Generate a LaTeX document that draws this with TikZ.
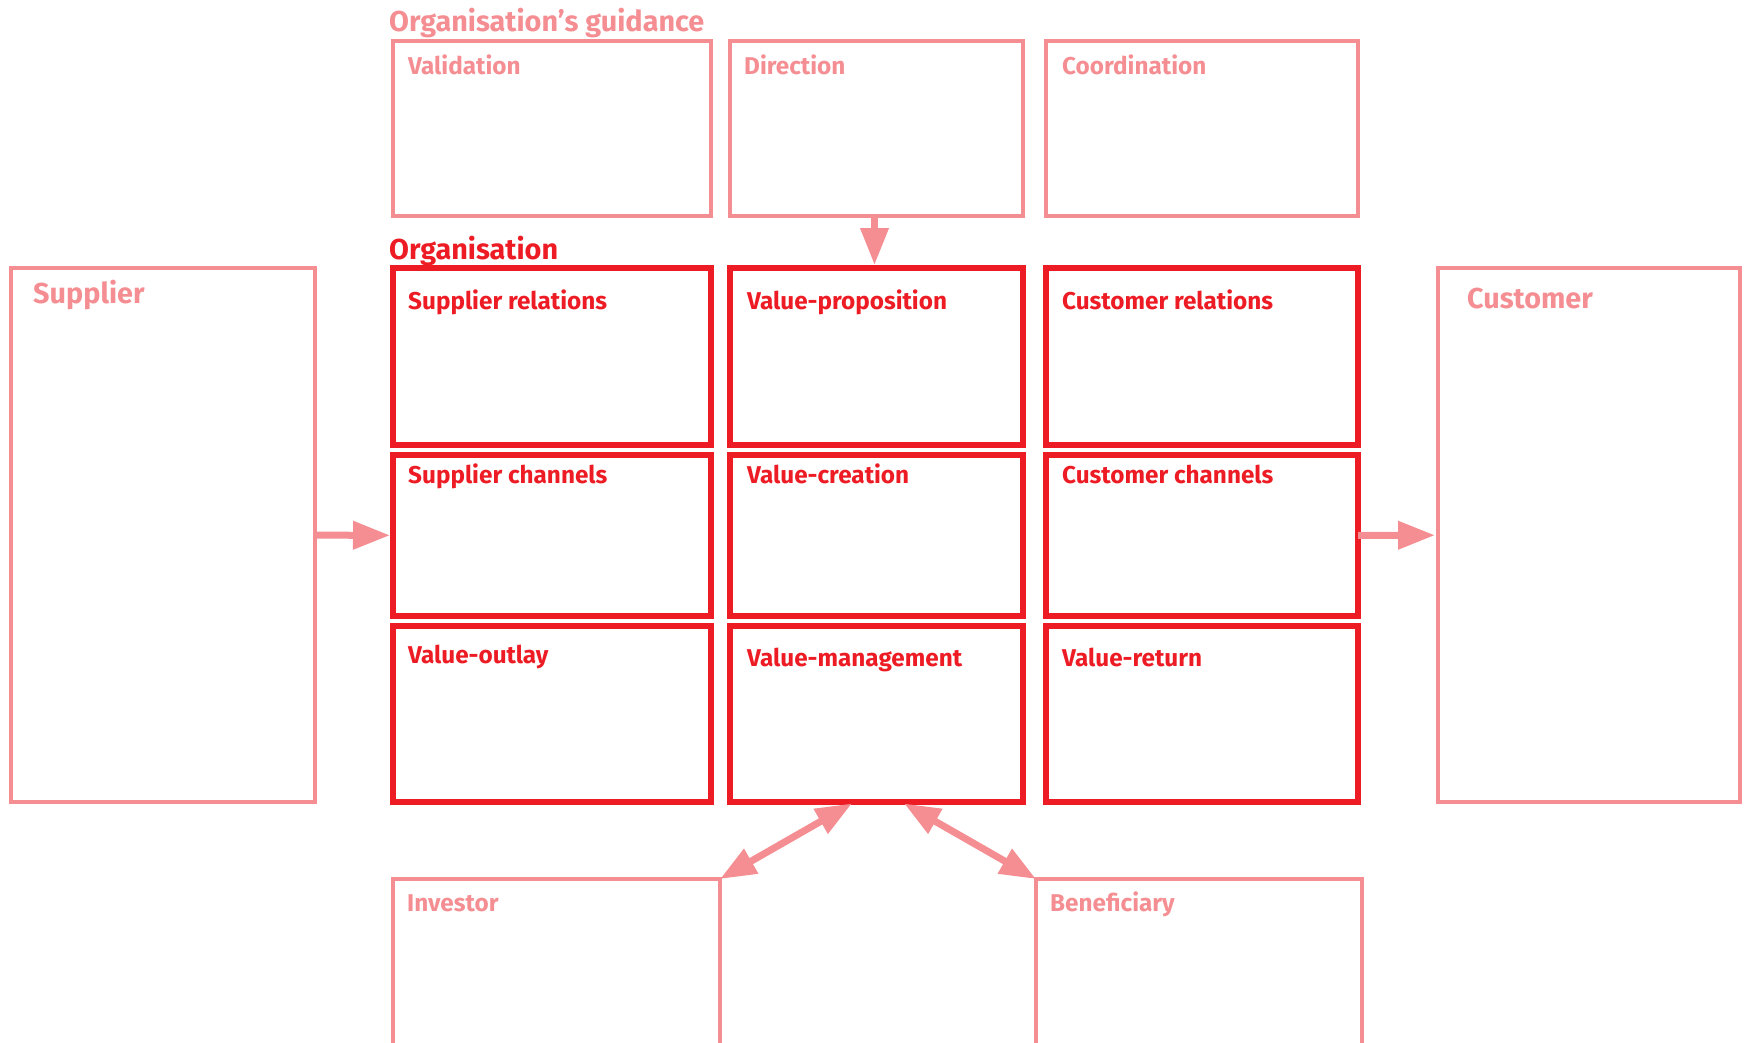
\documentclass[tikz,border=0pt]{standalone}
\usepackage{fontspec}
\setmainfont{Fira Sans}
\usetikzlibrary{
  positioning,
  arrows.meta
}

\definecolor{orgred}{HTML}{ED1C24}
\definecolor{guidepink}{HTML}{F58E92}

\tikzset{
  guidebox/.style = {rectangle, draw=guidepink, line width=4.5pt, inner sep=0pt, outer sep=0pt, anchor=north west},
  orgbox/.style = {rectangle, draw=orgred, line width=5.5pt, inner sep=0pt, outer sep=0pt, anchor=north west},
  boxtext/.style = {anchor=base west, inner sep=0pt, font=\bfseries\fontsize{24.3}{24.3}\selectfont},
  headtext/.style = {anchor=base west, inner sep=0pt, font=\bfseries\fontsize{28.8}{28.8}\selectfont},
  flow/.style = {draw=guidepink, line width=7pt, -{Triangle[length=37pt,width=27pt]}, shorten >=3pt},
  swap/.style = {draw=guidepink, line width=7pt, {Triangle[length=36pt,width=27pt]}-{Triangle[length=36pt,width=27pt]}, shorten <=3pt}
}

\begin{document}
\begin{tikzpicture}[x=1pt, y=-1pt]
    \useasboundingbox (0,0) rectangle (1744,1042);

    % guidance row
    \node[headtext, guidepink] (guidetitle) at (389,31) {Organisation’s guidance};
    \node[guidebox, minimum width=318, minimum height=175] (valid) at (393,41) {};
    \node[guidebox, minimum width=293, minimum height=175] (direct) at (730,41) {};
    \node[guidebox, minimum width=312, minimum height=175] (coord) at (1046,41) {};
    \node[boxtext, guidepink] at ([shift={(15,33)}]valid.north west) {Validation};
    \node[boxtext, guidepink] at ([shift={(14,33)}]direct.north west) {Direction};
    \node[boxtext, guidepink] at ([shift={(16,33)}]coord.north west) {Coordination};

    % organisation grid
    \node[headtext, orgred] (orgtitle) at (389,259) {Organisation};
    \node[orgbox, minimum width=318, minimum height=177] (suprel) at (393,268) {};
    \node[orgbox, minimum width=293, minimum height=177] (valprop) at (730,268) {};
    \node[orgbox, minimum width=312, minimum height=177] (custrel) at (1046,268) {};
    \node[orgbox, minimum width=318, minimum height=161] (supch) at (393,455) {};
    \node[orgbox, minimum width=293, minimum height=161] (valcre) at (730,455) {};
    \node[orgbox, minimum width=312, minimum height=161] (custch) at (1046,455) {};
    \node[orgbox, minimum width=318, minimum height=176] (outlay) at (393,626) {};
    \node[orgbox, minimum width=293, minimum height=176] (valman) at (730,626) {};
    \node[orgbox, minimum width=312, minimum height=176] (valret) at (1046,626) {};

    \node[boxtext, orgred] at ([shift={(15,41)}]suprel.north west) {Supplier relations};
    \node[boxtext, orgred] at ([shift={(17,41)}]valprop.north west) {Value-proposition};
    \node[boxtext, orgred] at ([shift={(16,41)}]custrel.north west) {Customer relations};
    \node[boxtext, orgred] at ([shift={(15,28)}]supch.north west) {Supplier channels};
    \node[boxtext, orgred] at ([shift={(17,28)}]valcre.north west) {Value-creation};
    \node[boxtext, orgred] at ([shift={(16,28)}]custch.north west) {Customer channels};
    \node[boxtext, orgred] at ([shift={(15,37)}]outlay.north west) {Value-outlay};
    \node[boxtext, orgred] at ([shift={(17,40)}]valman.north west) {Value-management};
    \node[boxtext, orgred] at ([shift={(16,40)}]valret.north west) {Value-return};

    % outside parties
    \node[guidebox, minimum width=304, minimum height=534] (supplier) at (11,268) {};
    \node[guidebox, minimum width=302, minimum height=534] (customer) at (1438,268) {};
    \node[guidebox, minimum width=327, minimum height=200] (investor) at (393,879) {};
    \node[guidebox, minimum width=326, minimum height=200] (benefic) at (1036,879) {};
    \node[headtext, guidepink] at ([shift={(22,35)}]supplier.north west) {Supplier};
    \node[headtext, guidepink] at ([shift={(29,40)}]customer.north west) {Customer};
    \node[boxtext, guidepink] at ([shift={(14,32)}]investor.north west) {Investor};
    \node[boxtext, guidepink] at ([shift={(14,32)}]benefic.north west) {Beneficiary};

    \draw[flow] (supplier) -- (supch);
    \draw[flow] (custch) -- (customer);
    \draw[flow] ([xshift=-2]direct.south) -- ([xshift=-2]valprop.north);
    \draw[swap] ([xshift=-22]valman.south) -- (investor.north east);
    \draw[swap] ([xshift=25]valman.south) -- (benefic.north west);
\end{tikzpicture}
\end{document}
